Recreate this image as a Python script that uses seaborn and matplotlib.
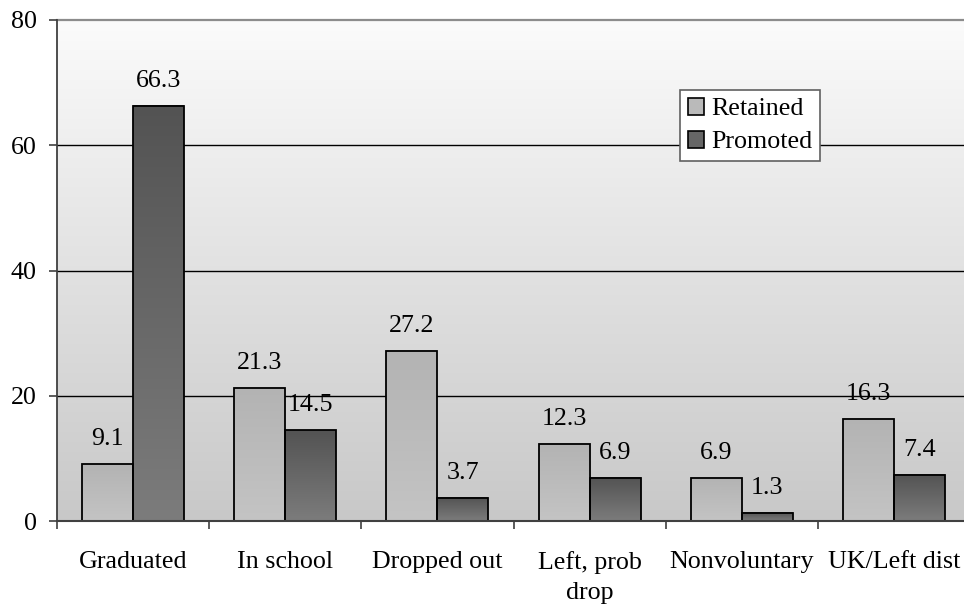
import numpy as np
import pandas as pd
import matplotlib
matplotlib.use("Agg")
import matplotlib.pyplot as plt
from matplotlib.colors import LinearSegmentedColormap
import seaborn as sns

categories = ["Graduated", "In school", "Dropped out", "Left, prob\ndrop", "Nonvoluntary", "UK/Left dist"]
retained = [9.1, 21.3, 27.2, 12.3, 6.9, 16.3]
promoted = [66.3, 14.5, 3.7, 6.9, 1.3, 7.4]
series = ["Retained", "Promoted"]
yticks = [0, 20, 40, 60, 80]

plt.rcParams["font.family"] = ["Liberation Serif", "DejaVu Serif"]
FS = 18.7

df = pd.DataFrame({
    "category": categories * 2,
    "value": retained + promoted,
    "series": [series[0]] * len(categories) + [series[1]] * len(categories),
})

fig = plt.figure(figsize=(9.64, 6.06), dpi=100)
ax = fig.add_axes([57 / 964, 85 / 606, (970 - 57) / 964, 501 / 606])

palette = {"Retained": "#bababa", "Promoted": "#666666"}
sns.barplot(data=df, x="category", y="value", hue="series", order=categories,
            hue_order=series, palette=palette, width=0.67, ax=ax,
            edgecolor="black", linewidth=1.3, errorbar=None, saturation=1, legend=True)

# background gradient
bg = LinearSegmentedColormap.from_list("bg", ["#c8c8c8", "#fbfbfb"])
grad = np.linspace(0, 1, 256).reshape(-1, 1)
ax.imshow(grad, extent=[0, 1, 0, 1], transform=ax.transAxes, origin="lower",
          aspect="auto", cmap=bg, zorder=0)

# per-bar gradients
cmaps = {
    "Retained": LinearSegmentedColormap.from_list("r", ["#c4c4c4", "#b3b3b3"]),
    "Promoted": LinearSegmentedColormap.from_list("p", ["#7c7c7c", "#535353"]),
}
for cont, name in zip(ax.containers, series):
    for p in cont.patches:
        x0, y0 = p.get_x(), p.get_y()
        w, h = p.get_width(), p.get_height()
        ax.imshow(grad, extent=[x0, x0 + w, y0, y0 + h], origin="lower",
                  aspect="auto", cmap=cmaps[name], zorder=2.5)
        p.set_facecolor("none")
        p.set_zorder(3)
    ax.bar_label(cont, labels=[f"{v:.1f}" for v in cont.datavalues],
                 padding=10, fontsize=FS, color="black")

ax.set_xlim(-0.5, len(categories) - 0.5)
ax.set_ylim(0, 80)

# gridlines
for yv in yticks[1:-1]:
    ax.axhline(yv, color="black", lw=1.0, zorder=1)
ax.axhline(80, color="#8c8c8c", lw=1.6, zorder=1, clip_on=False)

for s in ["top", "right"]:
    ax.spines[s].set_visible(False)
ax.spines["left"].set_color("#404040")
ax.spines["left"].set_linewidth(1.3)
ax.spines["bottom"].set_color("#404040")
ax.spines["bottom"].set_linewidth(1.5)
ax.spines["left"].set_zorder(4)
ax.spines["bottom"].set_zorder(4)

ax.set_yticks(yticks)
ax.set_yticklabels([str(v) for v in yticks], fontsize=FS)
ax.tick_params(axis="y", length=6, width=1.2, color="#404040", pad=8.5, direction="out")

ax.set_xticks(range(len(categories)))
ax.set_xticklabels(categories, fontsize=FS, linespacing=1.5)
ax.set_xticks(np.arange(-0.5, len(categories), 1), minor=True)
ax.tick_params(axis="x", which="major", length=0, pad=21.5)
ax.tick_params(axis="x", which="minor", length=5.5, width=1.2, color="#404040", direction="out")

ax.set_xlabel("")
ax.set_ylabel("")

handles, labels = ax.get_legend_handles_labels()
for h, name in zip(handles, labels):
    h.set_facecolor(palette[name])
    h.set_edgecolor("black")
    h.set_linewidth(1.2)
leg = ax.legend(handles, labels, loc="upper left",
                bbox_to_anchor=(680 / 964, 1 - 90 / 606), bbox_transform=fig.transFigure,
                fontsize=FS, frameon=True, fancybox=False, framealpha=1,
                edgecolor="#606060", handlelength=0.62, handleheight=0.62,
                handletextpad=0.27, borderpad=0.3, labelspacing=0.4,
                borderaxespad=0)
leg.get_frame().set_linewidth(1.2)
leg.set_zorder(5)

fig.savefig("out.png", dpi=100)
